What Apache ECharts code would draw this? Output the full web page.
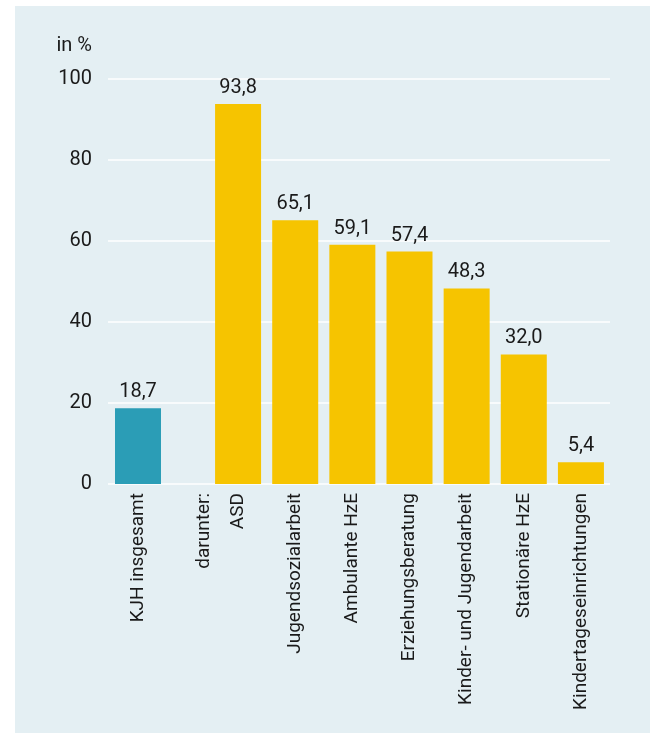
<!DOCTYPE html>
<html>
<head>
<meta charset="utf-8">
<script src="https://cdn.jsdelivr.net/npm/echarts@6/dist/echarts.min.js"></script>
<style>
html,body{margin:0;padding:0;background:#fff;}
#c{width:653px;height:733px;}
</style>
</head>
<body>
<div id="c"></div>
<script>
// Data
const totalCategories = ["KJH insgesamt", "darunter:"];
const totalValues = [18.7, null];
const subCategories = ["ASD", "Jugendsozialarbeit", "Ambulante HzE", "Erziehungsberatung", "Kinder- und Jugendarbeit", "Stationäre HzE", "Kindertageseinrichtungen"];
const subValues = [93.8, 65.1, 59.1, 57.4, 48.3, 32.0, 5.4];
const yTicks = [0, 20, 40, 60, 80, 100];
const yUnit = "in %";

const FONT = "Roboto";
const TXT = "#1a1a1a";
const fmt = v => v.toFixed(1).replace('.', ',');

const chart = echarts.init(document.getElementById('c'), null, {renderer: 'canvas'});
const labelStyle = {show: true, position: 'top', distance: 6, color: TXT, fontFamily: FONT, fontSize: 20,
  formatter: p => p.value == null ? '' : fmt(p.value)};
const catLabel = {rotate: 90, color: TXT, fontFamily: FONT, fontSize: 19, margin: 9, interval: 0};

chart.setOption({
  backgroundColor: '#ffffff',
  animation: false,
  graphic: [{type: 'rect', z: -10, shape: {x: 15, y: 6, width: 635, height: 727}, style: {fill: '#e4eff3'}}],
  grid: [
    {left: 108, right: 43, top: 79, bottom: 249},
    {left: 105, width: 132, top: 79, bottom: 249},
    {left: 209.5, right: 43.5, top: 79, bottom: 249}
  ],
  xAxis: [
    {gridIndex: 0, type: 'category', data: [''], show: false},
    {gridIndex: 1, type: 'category', data: totalCategories, axisLine: {show: false}, axisTick: {show: false}, axisLabel: catLabel},
    {gridIndex: 2, type: 'category', data: subCategories, axisLine: {show: false}, axisTick: {show: false}, axisLabel: catLabel}
  ],
  yAxis: [
    {gridIndex: 0, type: 'value', min: yTicks[0], max: yTicks[yTicks.length-1], interval: 20,
     name: yUnit, nameLocation: 'end', nameGap: 23,
     nameTextStyle: {color: TXT, fontFamily: FONT, fontSize: 20, align: 'right', padding: [0, 16, 0, 0]},
     axisLine: {show: false}, axisTick: {show: false},
     axisLabel: {color: TXT, fontFamily: FONT, fontSize: 20, margin: 16},
     splitLine: {lineStyle: {color: '#ffffff', width: 1.5}}},
    {gridIndex: 1, type: 'value', min: 0, max: 100, show: false, splitLine: {show: false}},
    {gridIndex: 2, type: 'value', min: 0, max: 100, show: false, splitLine: {show: false}}
  ],
  series: [
    {type: 'bar', xAxisIndex: 1, yAxisIndex: 1, data: totalValues, barWidth: 46,
     itemStyle: {color: '#2b9db6'}, label: labelStyle},
    {type: 'bar', xAxisIndex: 2, yAxisIndex: 2, data: subValues, barWidth: 46,
     itemStyle: {color: '#f6c400'}, label: labelStyle}
  ]
});
</script>
</body>
</html>
